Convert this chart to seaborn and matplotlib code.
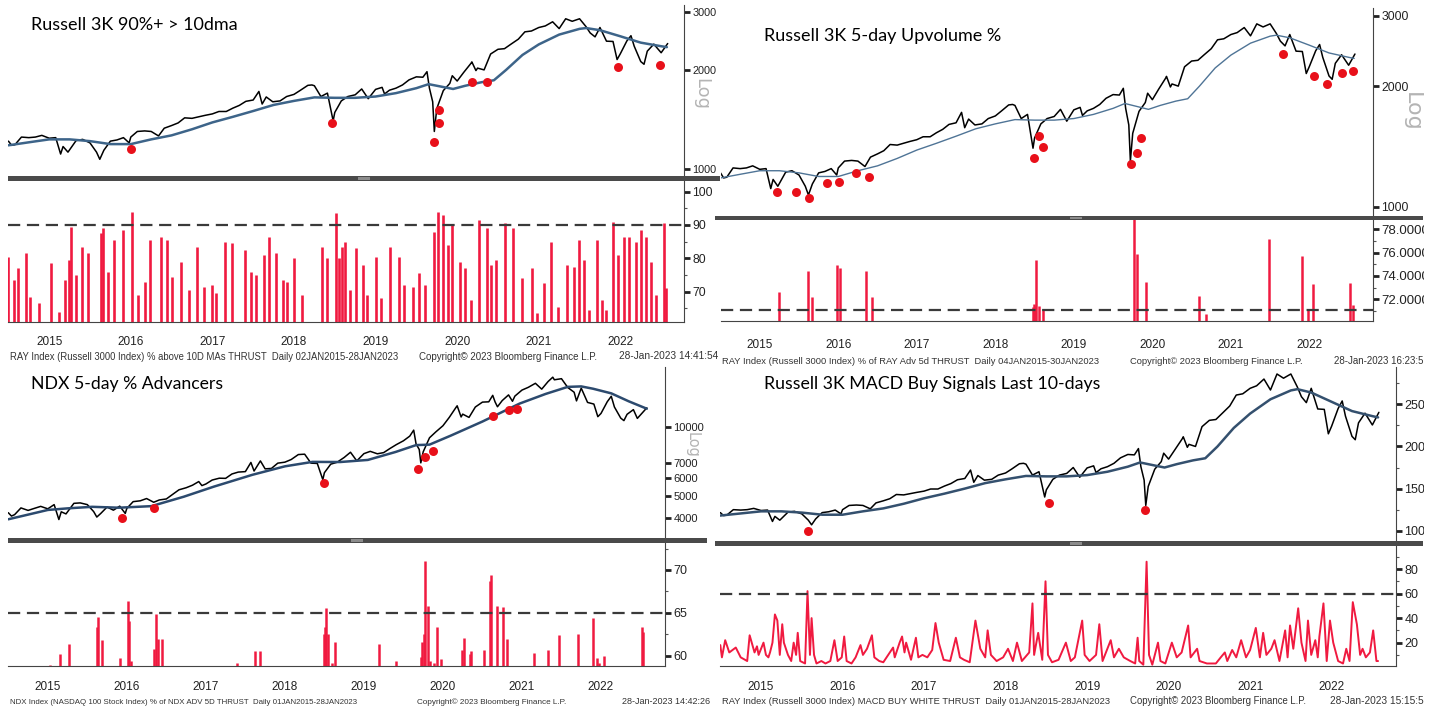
import numpy as np
import pandas as pd
import seaborn as sns
import matplotlib.pyplot as plt
import matplotlib.transforms as mtransforms
from matplotlib.patches import Rectangle
from matplotlib.ticker import FixedLocator, FixedFormatter, NullFormatter

# ---------------- data ----------------
# Russell 3000 (RAY) price, decimal years
ray_year = [2015.00, 2015.04, 2015.08, 2015.16, 2015.25, 2015.33, 2015.41, 2015.50, 2015.58, 2015.64,
            2015.67, 2015.73, 2015.83, 2015.91, 2016.00, 2016.08, 2016.12, 2016.17, 2016.25, 2016.33,
            2016.41, 2016.48, 2016.50, 2016.58, 2016.67, 2016.75, 2016.84, 2016.91, 2017.00, 2017.08,
            2017.16, 2017.25, 2017.33, 2017.41, 2017.50, 2017.58, 2017.67, 2017.75, 2017.83, 2017.91,
            2018.00, 2018.07, 2018.11, 2018.16, 2018.24, 2018.33, 2018.41, 2018.50, 2018.58, 2018.67,
            2018.72, 2018.75, 2018.83, 2018.91, 2018.98, 2019.00, 2019.08, 2019.16, 2019.25, 2019.33,
            2019.41, 2019.50, 2019.58, 2019.61, 2019.67, 2019.75, 2019.83, 2019.91, 2020.00, 2020.08,
            2020.13, 2020.16, 2020.20, 2020.22, 2020.25, 2020.33, 2020.41, 2020.44, 2020.50, 2020.58,
            2020.67, 2020.68, 2020.73, 2020.75, 2020.83, 2020.91, 2021.00, 2021.08, 2021.16, 2021.25,
            2021.33, 2021.41, 2021.50, 2021.58, 2021.67, 2021.75, 2021.83, 2021.91, 2022.00, 2022.08,
            2022.13, 2022.19, 2022.25, 2022.33, 2022.41, 2022.46, 2022.50, 2022.58, 2022.63, 2022.67,
            2022.75, 2022.79, 2022.83, 2022.91, 2023.00, 2023.08]
ray_px = [1215, 1180, 1185, 1250, 1245, 1250, 1265, 1240, 1245, 1110,
          1170, 1125, 1220, 1230, 1200, 1125, 1070, 1140, 1215, 1225,
          1245, 1200, 1250, 1300, 1305, 1300, 1260, 1330, 1355, 1380,
          1430, 1425, 1440, 1455, 1470, 1495, 1495, 1530, 1560, 1605,
          1620, 1720, 1575, 1655, 1600, 1610, 1660, 1685, 1735, 1795,
          1800, 1790, 1660, 1700, 1400, 1485, 1610, 1660, 1680, 1750,
          1635, 1745, 1770, 1690, 1735, 1760, 1800, 1865, 1905, 1900,
          1975, 1760, 1600, 1300, 1525, 1730, 1820, 1920, 1850, 1965,
          2095, 2115, 1990, 2025, 2000, 2235, 2310, 2320, 2395, 2480,
          2610, 2625, 2690, 2720, 2800, 2670, 2860, 2810, 2860, 2705,
          2590, 2520, 2690, 2445, 2440, 2150, 2240, 2450, 2540, 2360,
          2120, 2080, 2280, 2395, 2255, 2405]
ray_ma_year = [2015.00, 2015.25, 2015.50, 2015.75, 2016.00, 2016.25, 2016.50, 2016.75, 2017.00, 2017.25,
               2017.50, 2017.75, 2018.00, 2018.25, 2018.50, 2018.75, 2019.00, 2019.25, 2019.50, 2019.75,
               2020.00, 2020.15, 2020.30, 2020.45, 2020.60, 2020.80, 2020.95, 2021.10, 2021.30, 2021.50,
               2021.75, 2022.00, 2022.08, 2022.25, 2022.50, 2022.75, 2023.00, 2023.07]
ray_ma = [1180, 1205, 1230, 1230, 1215, 1190, 1190, 1230, 1265, 1320,
          1385, 1440, 1500, 1565, 1610, 1650, 1645, 1645, 1660, 1700,
          1760, 1810, 1780, 1750, 1790, 1835, 1860, 2000, 2220, 2390,
          2560, 2665, 2680, 2640, 2530, 2420, 2360, 2345]

# NASDAQ 100 (NDX) price
ndx_year = [2015.00, 2015.04, 2015.08, 2015.16, 2015.25, 2015.33, 2015.41, 2015.50, 2015.58, 2015.64,
            2015.67, 2015.73, 2015.83, 2015.91, 2016.00, 2016.08, 2016.12, 2016.17, 2016.25, 2016.33,
            2016.41, 2016.48, 2016.50, 2016.58, 2016.67, 2016.75, 2016.84, 2016.91, 2017.00, 2017.08,
            2017.16, 2017.25, 2017.33, 2017.41, 2017.45, 2017.50, 2017.58, 2017.67, 2017.75, 2017.83,
            2017.91, 2018.00, 2018.07, 2018.11, 2018.19, 2018.25, 2018.33, 2018.41, 2018.50, 2018.58,
            2018.67, 2018.75, 2018.83, 2018.91, 2018.98, 2019.00, 2019.08, 2019.16, 2019.25, 2019.33,
            2019.41, 2019.50, 2019.58, 2019.67, 2019.75, 2019.83, 2019.91, 2020.00, 2020.08, 2020.13,
            2020.16, 2020.20, 2020.22, 2020.25, 2020.33, 2020.41, 2020.50, 2020.58, 2020.67, 2020.68,
            2020.73, 2020.75, 2020.83, 2020.91, 2021.00, 2021.08, 2021.13, 2021.16, 2021.19, 2021.25,
            2021.33, 2021.38, 2021.41, 2021.50, 2021.58, 2021.67, 2021.75, 2021.83, 2021.89, 2021.91,
            2022.00, 2022.08, 2022.16, 2022.19, 2022.25, 2022.33, 2022.41, 2022.46, 2022.50, 2022.58,
            2022.63, 2022.67, 2022.75, 2022.79, 2022.83, 2022.91, 2022.96, 2023.08]
ndx_px = [4230, 4090, 4150, 4440, 4330, 4420, 4510, 4400, 4590, 3950,
          4270, 4180, 4650, 4670, 4590, 4280, 4050, 4200, 4480, 4340,
          4520, 4200, 4420, 4730, 4770, 4880, 4700, 4810, 4860, 5090,
          5330, 5440, 5580, 5790, 5560, 5650, 5880, 5990, 5980, 6250,
          6370, 6400, 7020, 6440, 7130, 6580, 6610, 6970, 7040, 7230,
          7600, 7630, 6970, 6950, 5900, 6330, 6900, 7030, 7380, 7780,
          7130, 7670, 7850, 7660, 7750, 8080, 8400, 8730, 9150, 9720,
          8460, 8000, 6990, 7810, 9000, 9550, 10160, 11050, 12290, 12420,
          11100, 11420, 11050, 12270, 12890, 12930, 13800, 12910, 12300, 13090,
          13860, 13000, 13690, 14550, 14960, 15580, 14690, 15850, 16570, 16140,
          16320, 14930, 14240, 13050, 14840, 12850, 12640, 11130, 11500, 12950,
          13670, 12270, 10970, 10700, 11400, 11950, 10940, 12170]
ndx_ma_year = [2015.00, 2015.25, 2015.50, 2015.75, 2016.06, 2016.40, 2016.81, 2017.22, 2017.60, 2018.09,
               2018.50, 2018.85, 2019.20, 2019.55, 2019.90, 2020.16, 2020.33, 2020.60, 2021.00, 2021.47,
               2021.80, 2022.08, 2022.25, 2022.40, 2022.63, 2022.85, 2023.08]
ndx_ma = [3960, 4150, 4350, 4420, 4490, 4450, 4520, 4970, 5500, 6200,
          6750, 7060, 7050, 7200, 7800, 8360, 8400, 9200, 10600, 12700,
          14000, 15030, 15100, 14750, 14080, 13000, 12060]

# signal dots on the price panes
tl_dot_year = [2016.50, 2018.96, 2020.21, 2020.28, 2020.28, 2020.68, 2020.86, 2022.47, 2022.98]
tl_dot_px = [1150, 1380, 1208, 1380, 1511, 1837, 1837, 2041, 2070]
tr_dot_year = [2015.72, 2015.96, 2016.13, 2016.35, 2016.51, 2016.73, 2016.89, 2018.99, 2019.06, 2019.11,
               2020.23, 2020.30, 2020.36, 2022.17, 2022.56, 2022.72, 2022.91, 2023.05]
tr_dot_px = [1086, 1086, 1049, 1144, 1155, 1214, 1186, 1325, 1501, 1409,
             1280, 1362, 1482, 2405, 2123, 2024, 2156, 2181]
bl_dot_year = [2016.44, 2016.84, 2018.99, 2020.19, 2020.27, 2020.37, 2021.13, 2021.33, 2021.44]
bl_dot_px = [4024, 4424, 5691, 6551, 7395, 7904, 11205, 11904, 11985]
br_dot_year = [2016.07, 2019.03, 2020.21]
br_dot_px = [1000, 1325, 1249]

# thrust indicators
tl_ind_year = [2015.00, 2015.07, 2015.12, 2015.21, 2015.26, 2015.38, 2015.52, 2015.62, 2015.69, 2015.74,
               2015.77, 2015.83, 2015.90, 2015.98, 2016.13, 2016.16, 2016.22, 2016.29, 2016.41, 2016.52,
               2016.59, 2016.67, 2016.73, 2016.87, 2016.94, 2017.01, 2017.12, 2017.21, 2017.31, 2017.40,
               2017.49, 2017.54, 2017.66, 2017.74, 2017.90, 2017.97, 2018.03, 2018.13, 2018.19, 2018.28,
               2018.36, 2018.42, 2018.50, 2018.60, 2018.84, 2018.91, 2019.01, 2019.05, 2019.09, 2019.13,
               2019.19, 2019.26, 2019.34, 2019.40, 2019.50, 2019.57, 2019.68, 2019.79, 2019.85, 2019.96,
               2020.03, 2020.10, 2020.22, 2020.26, 2020.33, 2020.39, 2020.44, 2020.54, 2020.60, 2020.67,
               2020.77, 2020.86, 2020.91, 2020.98, 2021.09, 2021.19, 2021.30, 2021.42, 2021.48, 2021.57,
               2021.65, 2021.74, 2021.85, 2021.93, 2021.99, 2022.06, 2022.12, 2022.21, 2022.27, 2022.33,
               2022.41, 2022.47, 2022.54, 2022.61, 2022.69, 2022.75, 2022.82, 2022.88, 2022.94, 2023.03,
               2023.06]
tl_ind_val = [80.5, 73.5, 77, 81.5, 68.5, 66.5, 78.5, 64, 73.5, 79.5,
              89.5, 75, 83.5, 81.5, 87.5, 89, 76, 85.5, 88.5, 94,
              69, 73, 85.5, 86.5, 85.5, 74.5, 79, 70.5, 83.5, 71.5,
              72, 69.5, 85, 84.5, 82.5, 76, 75, 81, 86.5, 81.5,
              73.5, 73, 80, 69, 83.5, 80, 93.5, 80, 83.5, 85,
              70.5, 83, 78, 69, 80.5, 68, 83.5, 80.5, 72, 71.5,
              75.5, 72, 88, 94, 93, 84, 90, 79, 77, 67.5,
              91.5, 89, 78, 79.5, 90.5, 89, 74, 77, 63.5, 72.5,
              85, 65.5, 78, 77.5, 85.5, 79.5, 64.5, 85.5, 67.5, 64.5,
              91, 81, 86.5, 86.5, 85, 88.5, 86.5, 79, 69, 90.5,
              71]
tr_ind_year = [2015.75, 2016.12, 2016.16, 2016.49, 2016.52, 2016.85, 2016.93, 2018.98, 2018.99, 2019.00,
               2019.02, 2019.05, 2019.11, 2020.26, 2020.31, 2020.42, 2021.09, 2021.18, 2021.98, 2022.40,
               2022.48, 2022.55, 2023.02, 2023.05]
tr_ind_val = [72.6, 74.4, 72.2, 74.9, 74.7, 74.4, 72.2, 71.3, 71.6, 71.4,
              75.4, 71.4, 71.1, 79.5, 75.9, 73.5, 72.3, 70.7, 77.2, 75.7,
              71.1, 73.3, 73.4, 71.5]
bl_ind_year = [2015.53, 2015.65, 2015.77, 2016.12, 2016.13, 2016.19, 2016.41, 2016.51, 2016.53, 2016.55,
               2016.85, 2016.87, 2016.89, 2016.95, 2017.89, 2018.12, 2018.19, 2018.99, 2019.01, 2019.02,
               2019.05, 2019.09, 2019.13, 2019.69, 2019.91, 2020.22, 2020.23, 2020.26, 2020.27, 2020.31,
               2020.34, 2020.39, 2020.43, 2020.47, 2020.74, 2020.77, 2020.84, 2020.85, 2021.02, 2021.09,
               2021.11, 2021.19, 2021.26, 2021.31, 2021.65, 2021.83, 2021.97, 2022.21, 2022.40, 2022.45,
               2022.47, 2022.54, 2023.02, 2023.03]
bl_ind_val = [58.9, 60.2, 61.4, 63.3, 64.5, 61.8, 59.7, 66.4, 64.1, 59.4,
              60.8, 64.9, 62.0, 61.9, 59.1, 60.5, 60.5, 62.5, 63.3, 65.6,
              62.5, 59.1, 61.6, 61.4, 59.4, 59.9, 61.6, 62.5, 71.1, 65.8,
              59.4, 59.1, 63.3, 59.6, 60.7, 62.1, 60.2, 60.5, 60.7, 68.7,
              69.4, 65.8, 65.7, 61.9, 60.3, 60.7, 62.4, 62.5, 64.4, 59.7,
              59.1, 60.0, 63.4, 62.8]
br_ind_year = [2015.00, 2015.02, 2015.06, 2015.11, 2015.19, 2015.25, 2015.33, 2015.36, 2015.42, 2015.45,
               2015.47, 2015.50, 2015.53, 2015.56, 2015.59, 2015.61, 2015.64, 2015.67, 2015.70, 2015.73,
               2015.76, 2015.78, 2015.83, 2015.87, 2015.90, 2015.93, 2015.95, 2015.98, 2016.04, 2016.07,
               2016.10, 2016.12, 2016.15, 2016.18, 2016.24, 2016.29, 2016.35, 2016.40, 2016.44, 2016.49,
               2016.52, 2016.55, 2016.61, 2016.66, 2016.72, 2016.75, 2016.80, 2016.86, 2016.89, 2016.95,
               2017.00, 2017.06, 2017.12, 2017.14, 2017.20, 2017.23, 2017.26, 2017.28, 2017.34, 2017.40,
               2017.43, 2017.48, 2017.54, 2017.60, 2017.64, 2017.68, 2017.74, 2017.82, 2017.89, 2017.94,
               2017.99, 2018.06, 2018.13, 2018.19, 2018.25, 2018.28, 2018.32, 2018.39, 2018.47, 2018.53,
               2018.59, 2018.64, 2018.70, 2018.79, 2018.83, 2018.85, 2018.90, 2018.95, 2018.99, 2019.02,
               2019.07, 2019.15, 2019.24, 2019.30, 2019.35, 2019.44, 2019.47, 2019.53, 2019.61, 2019.65,
               2019.69, 2019.79, 2019.83, 2019.89, 2019.95, 2020.03, 2020.09, 2020.12, 2020.14, 2020.19,
               2020.23, 2020.26, 2020.30, 2020.37, 2020.40, 2020.46, 2020.54, 2020.60, 2020.66, 2020.74,
               2020.77, 2020.85, 2020.88, 2020.97, 2021.08, 2021.14, 2021.19, 2021.22, 2021.28, 2021.33,
               2021.39, 2021.45, 2021.50, 2021.57, 2021.62, 2021.66, 2021.70, 2021.76, 2021.80, 2021.86,
               2021.93, 2021.96, 2021.99, 2022.03, 2022.09, 2022.13, 2022.18, 2022.21, 2022.25, 2022.30,
               2022.33, 2022.35, 2022.40, 2022.44, 2022.48, 2022.52, 2022.58, 2022.64, 2022.68, 2022.72,
               2022.76, 2022.81, 2022.85, 2022.88, 2022.92, 2022.97, 2023.01, 2023.05, 2023.07]
br_ind_val = [18, 8, 22, 12, 16, 8, 5, 26, 12, 17,
              10, 15, 20, 10, 8, 12, 20, 43, 38, 10,
              35, 20, 10, 5, 20, 10, 28, 5, 3, 62,
              10, 40, 10, 3, 5, 3, 5, 22, 5, 8,
              25, 5, 3, 8, 18, 10, 15, 26, 8, 5,
              4, 10, 16, 8, 20, 25, 12, 20, 6, 24,
              8, 10, 8, 14, 36, 20, 6, 5, 24, 8,
              6, 4, 38, 15, 8, 30, 10, 5, 8, 15,
              5, 20, 5, 12, 52, 10, 28, 6, 70, 10,
              4, 6, 20, 5, 8, 38, 10, 5, 10, 35,
              5, 22, 8, 15, 8, 5, 3, 24, 5, 2,
              86, 10, 2, 20, 5, 3, 20, 8, 12, 34,
              8, 15, 5, 3, 3, 8, 12, 5, 14, 8,
              22, 8, 14, 32, 8, 28, 10, 15, 22, 5,
              30, 8, 34, 15, 48, 20, 5, 38, 10, 22,
              8, 25, 52, 5, 38, 20, 5, 3, 15, 5,
              53, 35, 10, 15, 8, 12, 30, 5, 5]

years = list(range(2015, 2023))

# ---------------- figure ----------------
W, H = 1439, 709
RED = '#f01a40'
DOT = '#e8101a'
sns.set_style('white')
plt.rcParams['font.family'] = ['Liberation Sans', 'DejaVu Sans']
fig = plt.figure(figsize=(W / 100, H / 100), dpi=100)


def add_ax(x0, y0, x1, y1):
    # pixel box, y measured from the top
    return fig.add_axes([x0 / W, 1 - y1 / H, (x1 - x0) / W, (y1 - y0) / H])


def right_ticks(ax, major, labels, minor, size):
    ax.yaxis.tick_right()
    ax.yaxis.set_major_locator(FixedLocator(major))
    ax.yaxis.set_major_formatter(FixedFormatter(labels))
    ax.yaxis.set_minor_locator(FixedLocator(minor))
    ax.yaxis.set_minor_formatter(NullFormatter())
    ax.tick_params(axis='y', which='major', direction='out', length=4, width=2,
                   color='#222222', labelsize=size, pad=2, labelcolor='#222222')
    ax.tick_params(axis='y', which='minor', direction='out', length=2.5, width=0.8, color='#555555')
    for s in ['left', 'top', 'bottom']:
        ax.spines[s].set_visible(False)
    ax.spines['right'].set_color('#444444')
    ax.set_xlabel('')
    ax.set_ylabel('')


def price_pane(box, xlim, ylim, log, px_year, px, ma_year, ma, dot_year, dot_px,
               ma_color, ma_lw, major, labels, minor, size):
    ax = add_ax(*box)
    sns.lineplot(x=px_year, y=px, ax=ax, color='black', lw=1.1, estimator=None, sort=False)
    sns.lineplot(x=ma_year, y=ma, ax=ax, color=ma_color, lw=ma_lw, estimator=None, sort=False)
    sns.scatterplot(x=dot_year, y=dot_px, ax=ax, color=DOT, s=42, linewidth=0, zorder=5)
    if log:
        ax.set_yscale('log')
    ax.set_xlim(xlim)
    ax.set_ylim(ylim)
    ax.set_xticks([])
    right_ticks(ax, major, labels, minor, size)
    return ax


def ind_pane(box, xlim, ylim, thr, major, labels, minor, tick_len, lab_off, size):
    ax = add_ax(*box)
    ax.axhline(thr, color='#3a3a3a', lw=1.6, ls=(0, (5.5, 3)), zorder=3)
    ax.set_xlim(xlim)
    ax.set_ylim(ylim)
    right_ticks(ax, major, labels, minor, size)
    ax.spines['bottom'].set_visible(True)
    ax.spines['bottom'].set_color('#444444')
    ax.xaxis.set_major_locator(FixedLocator(range(2016, 2024)))
    ax.xaxis.set_major_formatter(NullFormatter())
    ax.xaxis.set_minor_locator(FixedLocator(np.arange(2015.25, 2023.3, 0.25)))
    ax.tick_params(axis='x', which='major', direction='out', length=tick_len, width=1, color='#9a9a9a')
    ax.tick_params(axis='x', which='minor', direction='out', length=3, width=0.8, color='#666666')
    tr = mtransforms.offset_copy(ax.get_xaxis_transform(), fig=fig, y=-lab_off, units='dots')
    for y in years:
        ax.text(y + 0.5, 0, str(y), transform=tr, ha='center', va='center', fontsize=8.5, color='#222222')
    return ax


def separator(x0, x1, y0, y1, hx):
    fig.add_artist(Rectangle((x0 / W, 1 - y1 / H), (x1 - x0) / W, (y1 - y0) / H,
                             transform=fig.transFigure, facecolor='#4a4a4a', edgecolor='none', zorder=5))
    fig.add_artist(Rectangle(((hx - 6) / W, 1 - (y1 - 1) / H), 12 / W, (y1 - y0 - 2) / H,
                             transform=fig.transFigure, facecolor='#8c8c8c', edgecolor='none', zorder=6))


renderer = fig.canvas.get_renderer()


def fit_text(s, x0, x1, yc, family, size=10, color='black'):
    t = fig.text(x0 / W, 1 - yc / H, s, ha='left', va='center', fontsize=size,
                 family=family, color=color, zorder=8)
    w = t.get_window_extent(renderer).width
    t.set_fontsize(size * (x1 - x0) / w)
    return t


def plain_text(s, x0, yc, family, size, color):
    return fig.text(x0 / W, 1 - yc / H, s, ha='left', va='center', fontsize=size,
                    family=family, color=color, zorder=8)


def log_label(x, y, size):
    fig.text(x / W, 1 - y / H, 'Log', rotation=-90, ha='center', va='center',
             fontsize=size, color='#b4b4b4', family=['DejaVu Sans'])


# ---- top left: Russell 3K 90%+ > 10dma ----
xl = (2015.0, 2023.28)
price_pane((8.4, 5, 684, 176), xl, (952, 3149), True, ray_year, ray_px, ray_ma_year, ray_ma,
           tl_dot_year, tl_dot_px, '#3d6489', 1.8, [1000, 2000, 3000], ['1000', '2000', '3000'], [], 7.8)
ax = ind_pane((8.4, 181, 684, 321.7), xl, (60.96, 103.2), 90, [70, 80, 90, 100],
              ['70', '80', '90', '100'], [65, 75, 85, 95], 20, 20, 8.8)
ax.vlines(tl_ind_year, 60.96, tl_ind_val, color=RED, lw=1.9)
separator(8, 720, 176, 181, 364)
log_label(701, 94, 13)

# ---- top right: Russell 3K 5-day Upvolume % ----
xl = (2015.0, 2023.31)
price_pane((720.5, 8, 1373, 215.5), xl, (951, 3133), True, ray_year, ray_px, ray_ma_year, ray_ma,
           tr_dot_year, tr_dot_px, '#4f7496', 1.0, [1000, 2000, 3000], ['1000', '2000', '3000'], [], 8.8)
ax = ind_pane((720.5, 220, 1373, 321), xl, (70.14, 78.8), 71.08, [72, 74, 76, 78],
              ['72.0000', '74.0000', '76.0000', '78.0000'], [71, 73, 75, 77], 30, 24, 9.5)
ax.vlines(tr_ind_year, 70.14, tr_ind_val, color=RED, lw=1.8)
separator(715, 1423, 215.5, 220, 1076)
log_label(1412, 112, 16)

# ---- bottom left: NDX 5-day % Advancers ----
xl = (2015.0, 2023.31)
price_pane((8.3, 367, 665, 537.5), xl, (3296, 18360), True, ndx_year, ndx_px, ndx_ma_year, ndx_ma,
           bl_dot_year, bl_dot_px, '#2c4a6e', 1.8, [4000, 5000, 6000, 7000, 10000],
           ['4000', '5000', '6000', '7000', '10000'], [], 8)
ax = ind_pane((8.3, 542.5, 665, 666), xl, (58.8, 73.2), 65, [60, 65, 70], ['60', '65', '70'],
              [62.5, 67.5, 72.5], 28, 21, 9)
ax.vlines(bl_ind_year, 58.8, bl_ind_val, color=RED, lw=1.8)
separator(8, 707, 537.5, 542.5, 357)
log_label(692, 445, 10.5)

# ---- bottom right: Russell 3K MACD Buy Signals ----
xl = (2015.0, 2023.29)
price_pane((720.3, 367, 1396, 541), xl, (878, 2943), False, ray_year, ray_px, ray_ma_year, ray_ma,
           br_dot_year, br_dot_px, '#34506e', 1.8, [1000, 1500, 2000, 2500],
           ['1000', '1500', '2000', '2500'], [1250, 1750, 2250, 2750], 9)
ax = ind_pane((720.3, 546, 1396, 666), xl, (0.95, 98.8), 60, [20, 40, 60, 80],
              ['20', '40', '60', '80'], [10, 30, 50, 70, 90], 30, 21, 9)
sns.lineplot(x=br_ind_year, y=br_ind_val, ax=ax, color=RED, lw=1.4, estimator=None, sort=False)
ax.set_xlabel('')
ax.set_ylabel('')
separator(715, 1423, 541, 546, 1076)

# screenshot crop on the right edge
for y0, y1 in [(0, 330), (365, 670)]:
    fig.add_artist(Rectangle((1424 / W, 1 - y1 / H), (W - 1424) / W, (y1 - y0) / H,
                             transform=fig.transFigure, facecolor='white', edgecolor='none', zorder=9))

# ---- titles ----
TF = ['Lato', 'DejaVu Sans']
fit_text('Russell 3K 90%+ > 10dma', 31, 236.5, 25.5, TF)
fit_text('Russell 3K 5-day Upvolume %', 763.5, 1001, 35.5, TF)
fit_text('NDX 5-day % Advancers', 31, 223, 384, TF)
fit_text('Russell 3K MACD Buy Signals Last 10-days', 763.5, 1099, 384, TF)

# ---- Bloomberg footers ----
FF = ['Liberation Sans', 'DejaVu Sans']
FC = '#333333'
fit_text('RAY Index (Russell 3000 Index) % above 10D MAs THRUST  Daily 02JAN2015-28JAN2023',
         10, 398.5, 356.5, FF, 7, FC)
fit_text('Copyright\u00a9 2023 Bloomberg Finance L.P.', 418.7, 597.8, 356.5, FF, 7, FC)
fit_text('28-Jan-2023 14:41:54', 619, 718, 356, FF, 7, FC)
fit_text('RAY Index (Russell 3000 Index) % of RAY Adv 5d THRUST  Daily 04JAN2015-30JAN2023',
         722, 1097, 361.5, FF, 7, FC)
c = fit_text('Copyright\u00a9 2023 Bloomberg Finance L.P.', 1129.6, 1301, 361.5, FF, 7, FC)
plain_text('28-Jan-2023 16:23:5', 1333.6, 361.5, FF, c.get_fontsize() * 1.05, FC)
fit_text('NDX Index (NASDAQ 100 Stock Index) % of NDX ADV 5D THRUST  Daily 01JAN2015-28JAN2023',
         10, 359.5, 702, FF, 7, FC)
fit_text('Copyright\u00a9 2023 Bloomberg Finance L.P.', 417, 565, 702, FF, 7, FC)
fit_text('28-Jan-2023 14:42:26', 622, 709.4, 702, FF, 7, FC)
fit_text('RAY Index (Russell 3000 Index) MACD BUY WHITE THRUST  Daily 01JAN2015-28JAN2023',
         722, 1108.4, 701, FF, 7, FC)
c = fit_text('Copyright\u00a9 2023 Bloomberg Finance L.P.', 1130.5, 1308, 701, FF, 7, FC)
plain_text('28-Jan-2023 15:15:5', 1330, 701, FF, c.get_fontsize() * 1.05, FC)

fig.savefig('out.png', dpi=100, facecolor='white')
